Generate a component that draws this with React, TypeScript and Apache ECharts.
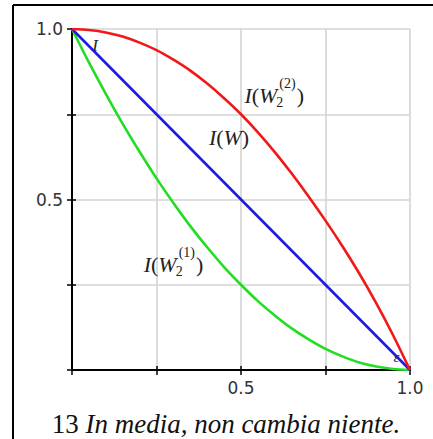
import { useEffect, useRef } from 'react';
import * as echarts from 'echarts';

// Sample positions along the horizontal axis
const xs = [0, 0.05, 0.1, 0.15, 0.2, 0.25, 0.3, 0.35, 0.4, 0.45, 0.5, 0.55, 0.6, 0.65, 0.7, 0.75, 0.8, 0.85, 0.9, 0.95, 1];
// I(W_2^(2)) — concave curve (red)
const redValues = [1, 0.997, 0.99, 0.978, 0.96, 0.938, 0.91, 0.878, 0.84, 0.797, 0.75, 0.697, 0.639, 0.576, 0.509, 0.438, 0.363, 0.283, 0.196, 0.102, 0];
// I(W_2^(1)) — convex curve (green)
const greenValues = [1, 0.902, 0.81, 0.722, 0.64, 0.562, 0.49, 0.422, 0.36, 0.302, 0.25, 0.202, 0.16, 0.122, 0.09, 0.062, 0.04, 0.022, 0.01, 0.003, 0];
// I(W) — straight segment (blue)
const blueXs = [0, 1];
const blueValues = [1, 0];

const axisTicks = [0, 0.25, 0.5, 0.75, 1];
const tickLabels = ['', '', '0.5', '', '1.0'];

const caption = { number: '13 ', text: 'In media, non cambia niente.' };

const SERIF = '"Liberation Serif", "Times New Roman", serif';
const SANS = '"DejaVu Sans", sans-serif';

type Piece = { t: string; it: boolean };

const measureCtx = typeof document !== 'undefined' ? document.createElement('canvas').getContext('2d') : null;
function measure(text: string, size: number, italic: boolean): number {
  if (!measureCtx) return text.length * size * 0.5;
  measureCtx.font = `${italic ? 'italic ' : ''}${size}px ${SERIF}`;
  return measureCtx.measureText(text).width;
}

function textEl(x: number, y: number, text: string, size: number, italic: boolean) {
  return {
    type: 'text',
    x,
    y,
    style: {
      text,
      fontSize: size,
      fontFamily: SERIF,
      fontStyle: italic ? 'italic' : 'normal',
      fill: '#222',
      align: 'left',
      verticalAlign: 'middle',
    },
  };
}

// Builds a math-style label such as I(W_2^(2)) from pieces, scripts and a closing part
function mathLabel(px: number, py: number, head: Piece[], sub: string, sup: string, tail: Piece[], size: number) {
  const children: any[] = [];
  let cx = 0;
  head.forEach((p) => {
    children.push(textEl(cx, 0, p.t, size, p.it));
    cx += measure(p.t, size, p.it);
  });
  if (sub || sup) {
    const s = Math.round(size * 0.62);
    children.push(textEl(cx + 2, -size * 0.55, sup, s, false));
    children.push(textEl(cx - 1, size * 0.32, sub, s, false));
    cx += Math.max(measure(sup, s, false) + 2, measure(sub, s, false) - 1) + 1;
  }
  tail.forEach((p) => {
    children.push(textEl(cx, 0, p.t, size, p.it));
    cx += measure(p.t, size, p.it);
  });
  return { type: 'group', x: px, y: py, children };
}

// Annotation anchors in data coordinates (left edge, vertical middle)
const labelAnchors = {
  w: [0.405, 0.683],
  w22: [0.51, 0.806],
  w21: [0.212, 0.31],
  i: [0.06, 0.952],
  eps: [0.951, 0.038],
};

export default function App() {
  const ref = useRef<HTMLDivElement>(null);

  useEffect(() => {
    if (!ref.current) return;
    const chart = echarts.init(ref.current, undefined, { renderer: 'svg' });

    const labelFormatter = (v: number) => {
      const i = axisTicks.findIndex((t) => Math.abs(t - v) < 1e-9);
      return i >= 0 ? tickLabels[i] : '';
    };

    const mainAxis = (isX: boolean) => ({
      type: 'value',
      min: 0,
      max: 1,
      interval: 0.25,
      position: isX ? 'bottom' : 'left',
      axisLine: { show: true, onZero: false, lineStyle: { color: '#000', width: 2 } },
      axisTick: { show: true, length: 5, lineStyle: { color: '#000', width: 1.5 } },
      axisLabel: {
        formatter: labelFormatter,
        fontSize: 17,
        fontFamily: SANS,
        color: '#333',
        margin: 9,
        showMinLabel: true,
        showMaxLabel: true,
      },
      splitLine: { show: true, lineStyle: { color: '#d4d4d4', width: 1.6 } },
    });

    // Companion axes that draw the inner half of each tick mark
    const innerAxis = (isX: boolean) => ({
      type: 'value',
      min: 0,
      max: 1,
      interval: 0.25,
      position: isX ? 'bottom' : 'left',
      offset: 0,
      axisLine: { show: false },
      axisTick: { show: true, inside: true, length: 4, lineStyle: { color: '#000', width: 1.5 } },
      axisLabel: { show: false },
      splitLine: { show: false },
    });

    const lineSeries = (name: string, xv: number[], yv: number[], color: string) => ({
      name,
      type: 'line',
      xAxisIndex: 0,
      yAxisIndex: 0,
      data: xv.map((x, i) => [x, yv[i]]),
      showSymbol: false,
      symbol: 'none',
      smooth: 0.3,
      lineStyle: { color, width: 2.6 },
      z: 3,
    });

    chart.setOption({
      animation: false,
      backgroundColor: '#fff',
      grid: { left: 72, top: 29, width: 338, height: 341, containLabel: false },
      xAxis: [mainAxis(true), innerAxis(true)],
      yAxis: [mainAxis(false), innerAxis(false)],
      series: [
        lineSeries('I(W2(1))', xs, greenValues, '#22dd22'),
        lineSeries('I(W)', blueXs, blueValues, '#1c1ce0'),
        lineSeries('I(W2(2))', xs, redValues, '#f01818'),
      ],
    });

    const px = (p: number[]) => chart.convertToPixel({ gridIndex: 0 }, p) as number[];
    const a = labelAnchors;
    const pw = px(a.w);
    const p22 = px(a.w22);
    const p21 = px(a.w21);
    const pi = px(a.i);
    const pe = px(a.eps);

    const head: Piece[] = [
      { t: 'I', it: true },
      { t: '(', it: false },
      { t: 'W', it: true },
    ];
    const tail: Piece[] = [{ t: ')', it: false }];

    chart.setOption({
      graphic: [
        // page frame
        { type: 'line', shape: { x1: 13, y1: 5, x2: 440, y2: 5 }, style: { stroke: '#000', lineWidth: 2 } },
        { type: 'line', shape: { x1: 13, y1: 5, x2: 13, y2: 445 }, style: { stroke: '#000', lineWidth: 2 } },
        mathLabel(pw[0], pw[1], head, '', '', tail, 22),
        mathLabel(p22[0], p22[1], head, '2', '(2)', tail, 22),
        mathLabel(p21[0], p21[1], head, '2', '(1)', tail, 22),
        textEl(pi[0], pi[1], 'I', 17, true),
        textEl(pe[0], pe[1], 'ε', 15, true),
        {
          type: 'text',
          x: 226,
          y: 424,
          style: {
            text: `{n|${caption.number}}{i|${caption.text}}`,
            align: 'center',
            verticalAlign: 'middle',
            rich: {
              n: { fontSize: 27, fontFamily: SERIF, fill: '#111' },
              i: { fontSize: 27, fontFamily: SERIF, fontStyle: 'italic', fill: '#111' },
            },
          },
        },
      ],
    });

    return () => chart.dispose();
  }, []);

  return (
    <div
      ref={ref}
      style={{ position: 'absolute', left: 0, top: 0, width: 433, height: 439, background: '#fff' }}
    />
  );
}
